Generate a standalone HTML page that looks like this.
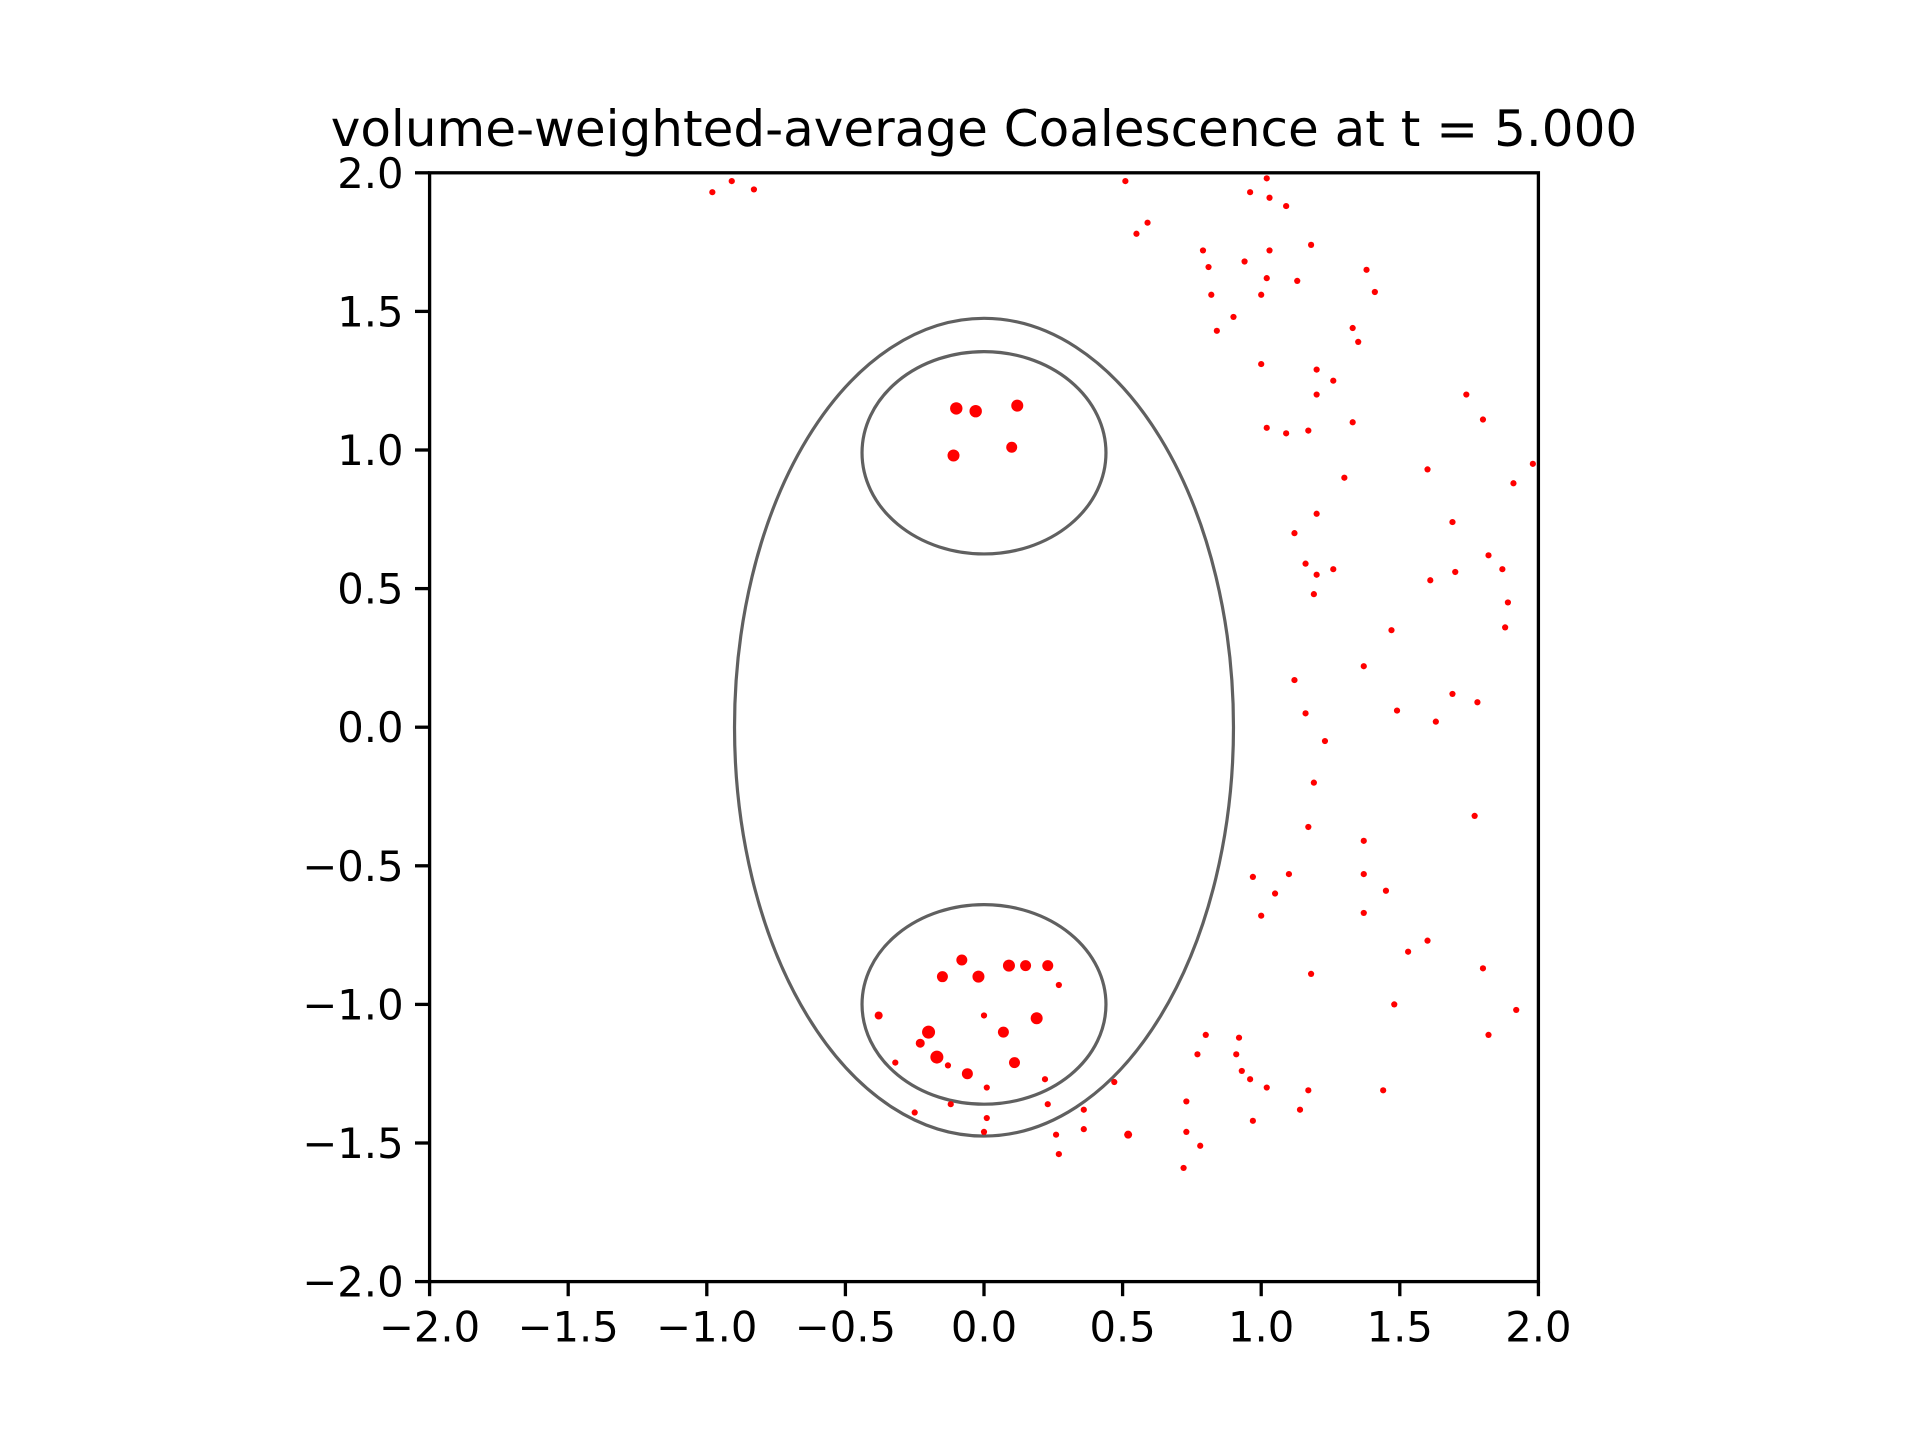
<!DOCTYPE html>
<html><head><meta charset="utf-8"><style>
html,body{margin:0;padding:0;background:#fff;}
svg{display:block;font-family:"DejaVu Sans","Liberation Sans",sans-serif;}
</style></head><body>
<svg id="chart" width="1920" height="1440" viewBox="0 0 1920 1440" xmlns="http://www.w3.org/2000/svg">
<rect width="1920" height="1440" fill="#fff"/>
<text x="984" y="146" font-size="50" text-anchor="middle" fill="#000">volume-weighted-average Coalescence at t = 5.000</text>
<g id="plot"></g>
</svg>
<script>
const xTicks = [-2.0,-1.5,-1.0,-0.5,0.0,0.5,1.0,1.5,2.0];
const yTicks = [-2.0,-1.5,-1.0,-0.5,0.0,0.5,1.0,1.5,2.0];
const tickLabels = ["\u22122.0","\u22121.5","\u22121.0","\u22120.5","0.0","0.5","1.0","1.5","2.0"];
const ellipseCx = [0, 0, 0];
const ellipseCy = [0, 0.99, -1.0];
const ellipseRx = [0.9, 0.44, 0.44];
const ellipseRy = [1.475, 0.365, 0.36];
const smallX = [-0.98,-0.91,-0.83,0.51,0.55,0.59,0.96,1.02,1.03,1.09,0.79,0.81,0.82,0.94,1.03,1.02,1.00,1.18,1.13,1.38,1.41,0.90,0.84,1.33,1.35,1.00,1.20,1.26,1.20,1.74,1.80,1.33,1.02,1.09,1.17,1.60,1.98,1.91,1.30,1.20,1.12,1.69,1.16,1.20,1.26,1.19,1.61,1.70,1.82,1.87,1.89,1.88,1.47,1.37,1.12,1.69,1.78,1.16,1.49,1.63,1.23,1.19,1.77,1.17,1.37,0.97,1.10,1.37,1.45,1.05,1.00,1.37,1.60,1.53,1.18,1.80,1.48,1.92,1.82,0.80,0.92,0.91,0.77,0.93,0.96,1.02,1.17,1.44,1.14,0.97,0.73,0.73,0.78,0.72,0.47,0.36,0.36,0.52,0.26,0.27,0.23,0.22,0.01,0.01,0.00,-0.12,-0.25,-0.32,-0.38,-0.13,0.27,0.00];
const smallY = [1.93,1.97,1.94,1.97,1.78,1.82,1.93,1.98,1.91,1.88,1.72,1.66,1.56,1.68,1.72,1.62,1.56,1.74,1.61,1.65,1.57,1.48,1.43,1.44,1.39,1.31,1.29,1.25,1.20,1.20,1.11,1.10,1.08,1.06,1.07,0.93,0.95,0.88,0.90,0.77,0.70,0.74,0.59,0.55,0.57,0.48,0.53,0.56,0.62,0.57,0.45,0.36,0.35,0.22,0.17,0.12,0.09,0.05,0.06,0.02,-0.05,-0.20,-0.32,-0.36,-0.41,-0.54,-0.53,-0.53,-0.59,-0.60,-0.68,-0.67,-0.77,-0.81,-0.89,-0.87,-1.00,-1.02,-1.11,-1.11,-1.12,-1.18,-1.18,-1.24,-1.27,-1.30,-1.31,-1.31,-1.38,-1.42,-1.35,-1.46,-1.51,-1.59,-1.28,-1.38,-1.45,-1.47,-1.47,-1.54,-1.36,-1.27,-1.30,-1.41,-1.46,-1.36,-1.39,-1.21,-1.04,-1.22,-0.93,-1.04];
const bigX = [-0.10,-0.03,0.12,-0.11,0.10,-0.08,-0.15,-0.02,0.09,0.15,0.23,0.19,0.07,-0.20,-0.23,-0.17,-0.06,0.11,-0.38,0.52];
const bigY = [1.15,1.14,1.16,0.98,1.01,-0.84,-0.90,-0.90,-0.86,-0.86,-0.86,-1.05,-1.10,-1.10,-1.14,-1.19,-1.25,-1.21,-1.04,-1.47];
const bigR = [6.2,6.2,6,6,5.5,5.5,5.5,6,6,5.5,5.5,6,5.5,6.5,4.5,6.5,5.5,5.5,4,4];

const L=429.6,R=1538.4,T=172.8,B=1281.6;
const sx = v => L + (v + 2) / 4 * (R - L);
const sy = v => B - (v + 2) / 4 * (B - T);
const NS="http://www.w3.org/2000/svg";
const g=document.getElementById('plot');
function mk(tag,attrs){const e=document.createElementNS(NS,tag);for(const k in attrs)e.setAttribute(k,attrs[k]);g.appendChild(e);return e;}

for(let i=0;i<ellipseCx.length;i++){
  const e=mk('ellipse',{cx:sx(ellipseCx[i]),cy:sy(ellipseCy[i]),rx:sx(ellipseRx[i])-sx(0),ry:sy(0)-sy(ellipseRy[i]),fill:'none',stroke:'#606060','stroke-width':3.2});
  
  
}
for(let i=0;i<smallX.length;i++){
  const c=mk('circle',{cx:sx(smallX[i]),cy:sy(smallY[i]),r:3.1,fill:'#ff0000'});
  
  
}
for(let i=0;i<bigX.length;i++){
  const c=mk('circle',{cx:sx(bigX[i]),cy:sy(bigY[i]),r:bigR[i],fill:'#ff0000'});
  
  
}
const frame=mk('rect',{x:L,y:T,width:R-L,height:B-T,fill:'none',stroke:'#000','stroke-width':3.3});


xTicks.forEach((v,i)=>{
  const x=sx(v);
  const t=mk('line',{x1:x,x2:x,y1:B,y2:B+14.6,stroke:'#000','stroke-width':3.3});
  
  
  const tx=mk('text',{x:x,y:B+60,'font-size':41.7,'text-anchor':'middle',fill:'#000'});
  tx.textContent=tickLabels[i];
  
  
});
yTicks.forEach((v,i)=>{
  const y=sy(v);
  const t=mk('line',{x1:L-14.6,x2:L,y1:y,y2:y,stroke:'#000','stroke-width':3.3});
  
  
  const tx=mk('text',{x:L-26,y:y+15,'font-size':41.7,'text-anchor':'end',fill:'#000'});
  tx.textContent=tickLabels[i];
  
  
});
</script>
</body></html>
